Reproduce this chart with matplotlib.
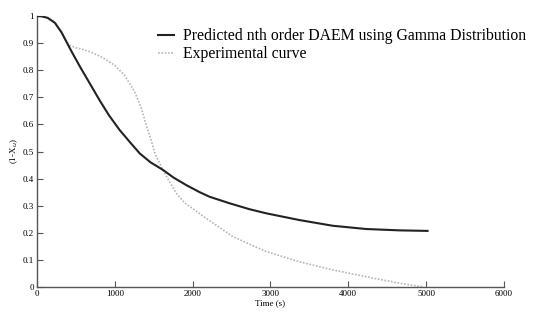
import matplotlib.pyplot as plt

# predicted nth order DAEM (gamma distribution)
pred_t = [0, 60, 140, 231, 316, 444, 560, 670, 808, 930, 1064, 1200, 1321, 1460,
          1620, 1760, 1919, 2090, 2218, 2474, 2731, 2944, 3372, 3799, 4227, 4654, 5017]
pred_y = [1.0, 0.999, 0.993, 0.975, 0.94, 0.87, 0.81, 0.756, 0.688, 0.632, 0.579, 0.533, 0.493, 0.46,
          0.432, 0.403, 0.376, 0.35, 0.333, 0.309, 0.287, 0.272, 0.247, 0.226, 0.214, 0.209, 0.207]

# experimental curve
exp_t = [0, 60, 140, 231, 316, 380, 423, 500, 615, 720, 829, 1000, 1128, 1256, 1342, 1406,
         1460, 1513, 1570, 1620, 1700, 1791, 1900, 2047, 2175, 2303, 2517, 2731, 2944, 3372,
         3799, 4227, 4654, 4970]
exp_y = [1.0, 0.999, 0.993, 0.977, 0.942, 0.905, 0.892, 0.883, 0.875, 0.864, 0.849, 0.818, 0.781,
         0.72, 0.66, 0.595, 0.55, 0.495, 0.46, 0.432, 0.39, 0.346, 0.31, 0.28, 0.253, 0.228, 0.186,
         0.158, 0.131, 0.093, 0.063, 0.038, 0.014, 0.0]

plt.rcParams['font.family'] = ['Liberation Serif', 'DejaVu Serif']

fig = plt.figure(figsize=(5.34, 3.14), dpi=100)
ax = fig.add_axes([0.069, 0.086, 0.875, 0.863])

ax.plot(exp_t, exp_y, color='#b5b5b5', lw=1.2, ls=(0, (1, 1)), label='Experimental curve', zorder=2)
ax.plot(pred_t, pred_y, color='#222222', lw=1.5, label='Predicted nth order DAEM using Gamma Distribution', zorder=3)

ax.set_xlim(0, 6000)
ax.set_ylim(0, 1)
ax.set_xticks(range(0, 6001, 1000))
ax.set_yticks([0, 0.1, 0.2, 0.3, 0.4, 0.5, 0.6, 0.7, 0.8, 0.9, 1])
ax.set_yticklabels(['0', '0.1', '0.2', '0.3', '0.4', '0.5', '0.6', '0.7', '0.8', '0.9', '1'])
ax.tick_params(direction='in', length=4, width=0.8, labelsize=6.5, color='#555555', pad=2)
for s in ['top', 'right']:
    ax.spines[s].set_visible(False)
for s in ['left', 'bottom']:
    ax.spines[s].set_color('#555555')
    ax.spines[s].set_linewidth(1.0)

ax.set_xlabel('Time (s)', fontsize=6.5, labelpad=1)
ax.set_ylabel('(1-X$_u$)', fontsize=6.5, labelpad=2)

h, l = ax.get_legend_handles_labels()
ax.legend(h[::-1], l[::-1], loc='upper left', bbox_to_anchor=(158 / 534, 1 - 28 / 314),
          bbox_transform=fig.transFigure, frameon=False, fontsize=11.3,
          handlelength=1.0, handletextpad=0.6, labelspacing=0.15, borderpad=0, borderaxespad=0)

fig.savefig('out.png', dpi=100)
